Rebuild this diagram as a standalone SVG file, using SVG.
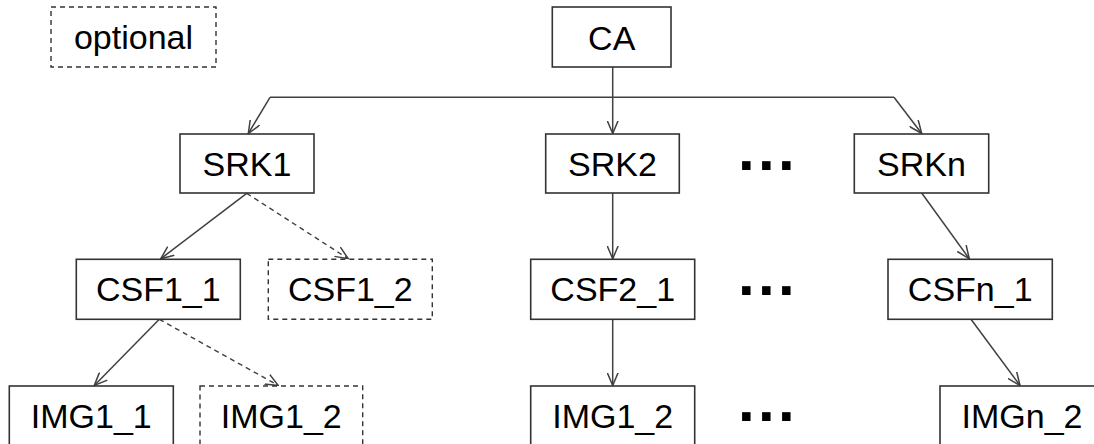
<svg xmlns="http://www.w3.org/2000/svg" width="1094" height="444" viewBox="0 0 1094 444">
<style>
.box{fill:#fff;stroke:#333;stroke-width:1.6}
.opt{fill:#fff;stroke:#333;stroke-width:1.4;stroke-dasharray:5 4}
.lbl{font-family:"Liberation Sans",Arial,sans-serif;font-size:34px;fill:#000;text-anchor:middle}
.dots{font-family:"Liberation Sans",Arial,sans-serif;font-size:60px;font-weight:bold;fill:#000;letter-spacing:3.3px}
.c{fill:none;stroke:#404040;stroke-width:1.5}
.cd{fill:none;stroke:#404040;stroke-width:1.4;stroke-dasharray:5 4}
</style>
<defs>
<marker id="arr" markerUnits="userSpaceOnUse" viewBox="0 0 14 12" markerWidth="14" markerHeight="12" refX="13" refY="6" orient="auto">
<path d="M0,0.5 L13,6 L0,11.5" fill="none" stroke="#404040" stroke-width="1.5" stroke-dasharray="none"/>
</marker>
</defs>
<rect width="1094" height="444" fill="#fff"/>
<g id="connectors">
<path class="c" d="M612.7,67 L612.7,133.5" marker-end="url(#arr)"/>
<path class="c" d="M270,97.3 L894,97.3"/>
<path class="c" d="M270,97.3 L248.3,133.5" marker-end="url(#arr)"/>
<path class="c" d="M894,97.3 L921.7,133.5" marker-end="url(#arr)"/>
<path class="c" d="M246.7,193.3 L160.7,258.8" marker-end="url(#arr)"/>
<path class="cd" d="M246.7,193.3 L348.3,258.8" marker-end="url(#arr)"/>
<path class="c" d="M159.3,319.3 L94.3,385.5" marker-end="url(#arr)"/>
<path class="cd" d="M159.3,319.3 L278.3,385.5" marker-end="url(#arr)"/>
<path class="c" d="M612.7,193 L612.7,258.8" marker-end="url(#arr)"/>
<path class="c" d="M612.7,319.3 L612.7,385.5" marker-end="url(#arr)"/>
<path class="c" d="M921.7,193 L969.3,258.8" marker-end="url(#arr)"/>
<path class="c" d="M971,319.3 L1020,385.5" marker-end="url(#arr)"/>
</g>
<g id="legend-optional"><rect class="opt" x="51" y="7" width="165" height="60"/><text class="lbl" x="133.5" y="49">optional</text></g>
<g id="CA"><rect class="box" x="552.3" y="7" width="118.7" height="60"/><text class="lbl" x="611.7" y="50">CA</text></g>
<g id="SRK1"><rect class="box" x="180" y="134" width="134" height="59"/><text class="lbl" x="247" y="175.5">SRK1</text></g>
<g id="SRK2"><rect class="box" x="545.7" y="134" width="133.6" height="59"/><text class="lbl" x="612.5" y="175.5">SRK2</text></g>
<g id="SRKn"><rect class="box" x="854.3" y="134" width="134.4" height="59"/><text class="lbl" x="921.5" y="175.5">SRKn</text></g>
<g id="CSF1_1"><rect class="box" x="76.3" y="259.3" width="164" height="60"/><text class="lbl" x="158.3" y="301">CSF1_1</text></g>
<g id="CSF1_2"><rect class="opt" x="268.3" y="259.3" width="164" height="60"/><text class="lbl" x="350.3" y="301">CSF1_2</text></g>
<g id="CSF2_1"><rect class="box" x="530.7" y="259.3" width="164" height="60"/><text class="lbl" x="612.7" y="301">CSF2_1</text></g>
<g id="CSFn_1"><rect class="box" x="888" y="259.3" width="164.3" height="60"/><text class="lbl" x="970.2" y="301">CSFn_1</text></g>
<g id="IMG1_1"><rect class="box" x="9.3" y="386" width="164" height="60"/><text class="lbl" x="91.3" y="428.3">IMG1_1</text></g>
<g id="IMG1_2a"><rect class="opt" x="200" y="386" width="162.7" height="60"/><text class="lbl" x="281.3" y="428.3">IMG1_2</text></g>
<g id="IMG1_2b"><rect class="box" x="530.7" y="386" width="164" height="60"/><text class="lbl" x="612.7" y="428.3">IMG1_2</text></g>
<g id="IMGn_2"><rect class="box" x="940" y="386" width="164" height="60"/><text class="lbl" x="1022" y="428.3">IMGn_2</text></g>
<g id="ellipses">
<text class="dots" x="738" y="170">...</text>
<text class="dots" x="738" y="295">...</text>
<text class="dots" x="738" y="421">...</text>
</g>
</svg>
